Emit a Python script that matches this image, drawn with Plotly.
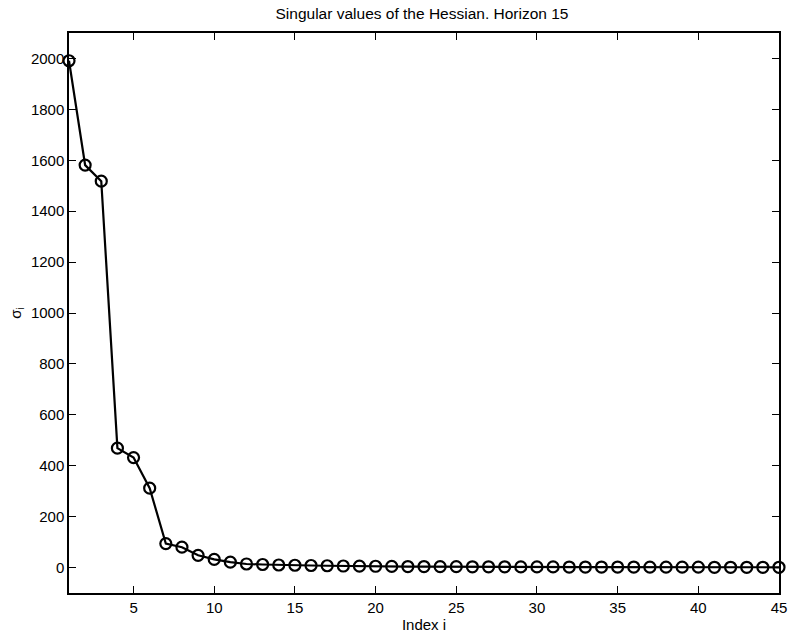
import plotly.graph_objects as go

index = list(range(1, 46))
sigma = [1991, 1581, 1518, 469, 432, 312, 94, 80, 48, 32,
         21, 14, 12, 10, 9, 8, 7, 6, 5.5, 5,
         4.5, 4, 4, 3.5, 3.5, 3, 3, 3, 2.5, 2.5,
         2.5, 2, 2, 2, 2, 2, 1.5, 1.5, 1.5, 1.5,
         1, 1, 1, 1, 1]
xticks = [5, 10, 15, 20, 25, 30, 35, 40, 45]
yticks = [0, 200, 400, 600, 800, 1000, 1200, 1400, 1600, 1800, 2000]

fig = go.Figure()
fig.add_trace(go.Scatter(
    x=index, y=sigma, mode="lines+markers",
    line=dict(color="black", width=2.2),
    marker=dict(symbol="circle-open", size=11, color="black", line=dict(width=2.2, color="black")),
    showlegend=False, cliponaxis=False,
))

fam = "Liberation Sans, Arial, sans-serif"
font = dict(family=fam, size=15, color="black")
fig.update_layout(
    width=791, height=637,
    margin=dict(l=69, r=12, t=33, b=44),
    paper_bgcolor="white", plot_bgcolor="white",
    font=font,
    title=dict(text="Singular values of the Hessian. Horizon 15", x=422/791, xanchor="center",
               y=1 - 14/637, yanchor="middle", font=dict(size=15.5, family=fam, color="black")),
)
fig.update_xaxes(
    range=[1, 45], tickvals=xticks, ticks="inside", ticklen=7, tickcolor="black",
    showline=True, linecolor="black", linewidth=1.5, mirror="ticks", showgrid=False, zeroline=False,
    automargin=False, tickfont=dict(size=15),
    title=dict(text="Index i", standoff=5, font=dict(size=15)),
)
fig.update_yaxes(
    range=[-100, 2100], tickvals=yticks, ticks="inside", ticklen=7, tickcolor="black",
    showline=True, linecolor="black", linewidth=1.5, mirror="ticks", showgrid=False, zeroline=False,
    automargin=False, tickfont=dict(size=15),
    title=dict(text="σ<sub>i</sub>", standoff=6, font=dict(size=15)),
)
fig.write_html("out.html", config={"displayModeBar": False},
               post_script="document.body.style.margin='0';document.body.style.overflow='hidden';")
